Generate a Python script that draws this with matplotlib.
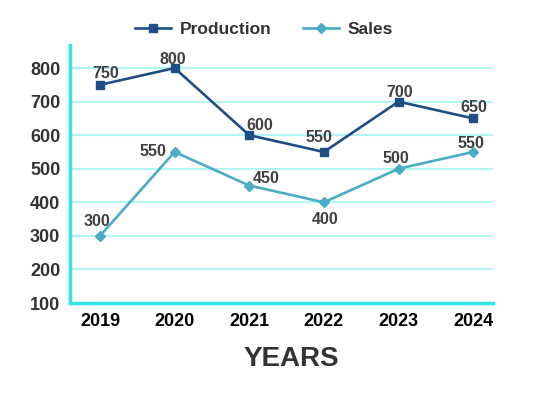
import matplotlib.pyplot as plt

years = [2019, 2020, 2021, 2022, 2023, 2024]
production = [750, 800, 600, 550, 700, 650]
sales = [300, 550, 450, 400, 500, 550]
y_ticks = [100, 200, 300, 400, 500, 600, 700, 800]

plt.rcParams['font.family'] = ['Liberation Sans', 'DejaVu Sans']

fig = plt.figure(figsize=(5.51, 3.95), dpi=100)
ax = fig.add_axes([0.127, 0.2329, 0.768, 0.653])

prod_color = '#1f4e85'
sales_color = '#4bacc6'

ax.plot(years, production, color=prod_color, lw=1.9, marker='s', ms=5.5, label='Production')
ax.plot(years, sales, color=sales_color, lw=1.9, marker='D', ms=5.5, label='Sales')

# value labels: (dx, dy) in pixels, ha, va
prod_lab = [((6, 7), 'center', 'baseline'), ((-2, 4), 'center', 'baseline'),
            ((11, 5), 'center', 'baseline'), ((-5, 10), 'center', 'baseline'),
            ((1, 5), 'center', 'baseline'), ((1, 6), 'center', 'baseline')]
sales_lab = [((-3, 10), 'center', 'baseline'), ((-8, 0), 'right', 'center'),
             ((4, 7), 'left', 'center'), ((1, -10), 'center', 'top'),
             ((-3, 6), 'center', 'baseline'), ((-2, 4), 'center', 'baseline')]
for xs, ys, labs in [(years, production, prod_lab), (years, sales, sales_lab)]:
    for x, y, (o, ha, va) in zip(xs, ys, labs):
        ax.annotate(str(y), (x, y), xytext=o, textcoords='offset pixels',
                    ha=ha, va=va, fontsize=11.5, fontweight='bold', color='#404040')

ax.set_xlim(2018.598, 2024.268)
ax.set_ylim(100, 868.5)
ax.set_yticks(y_ticks)
ax.set_xticks(years)
ax.set_xticklabels([str(y) for y in years], fontsize=13, fontweight='bold', color='black')
ax.set_yticklabels([str(v) for v in y_ticks], fontsize=13, fontweight='bold', color='#333333')
ax.tick_params(axis='x', length=0, pad=7)
ax.tick_params(axis='y', length=0, pad=7)

ax.grid(axis='y', color='#b3f5f3', lw=1.5)
ax.set_axisbelow(True)
for s in ['top', 'right']:
    ax.spines[s].set_visible(False)
for s in ['left', 'bottom']:
    ax.spines[s].set_color('#33e6e6')
    ax.spines[s].set_linewidth(2.5)

ax.set_xlabel('YEARS', fontsize=20, fontweight='bold', color='#333333')
ax.xaxis.set_label_coords(0.522, -0.165)

fig.legend(loc='center', bbox_to_anchor=(0.479, 0.925), ncol=2, frameon=False,
           prop={'size': 12.5, 'weight': 'bold'}, labelcolor='#333333',
           columnspacing=1.8, handlelength=2.1, handletextpad=0.5)

fig.savefig('out.png', dpi=100)
